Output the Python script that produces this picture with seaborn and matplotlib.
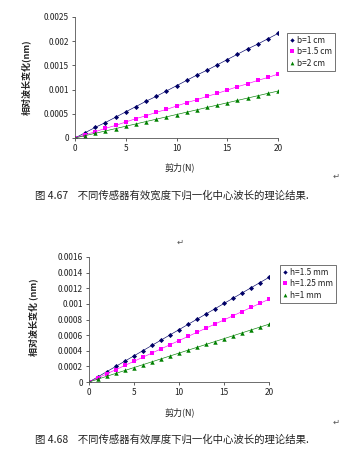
import numpy as np
import pandas as pd
import matplotlib
matplotlib.use("Agg")
import matplotlib.pyplot as plt
import seaborn as sns
from matplotlib.lines import Line2D

sns.set_theme(style="ticks")
plt.rcParams["font.family"] = ["Noto Sans CJK SC", "DejaVu Sans"]

force = list(range(21))

# width series (fig 4.67)
width_labels = ["b=1 cm", "b=1.5 cm", "b=2 cm"]
b1 = [0, 0.00011, 0.00022, 0.00032, 0.00043, 0.00054, 0.00065, 0.00076, 0.00086,
      0.00097, 0.00108, 0.00119, 0.0013, 0.0014, 0.00151, 0.00162, 0.00173,
      0.00184, 0.00194, 0.00205, 0.00216]
b15 = [0, 0.000066, 0.00013, 0.0002, 0.00026, 0.00033, 0.0004, 0.00046, 0.00053,
       0.00059, 0.00066, 0.00073, 0.00079, 0.00086, 0.00092, 0.00099, 0.00106,
       0.00112, 0.00119, 0.00125, 0.00132]
b2 = [0, 0.000049, 0.000097, 0.000146, 0.000194, 0.000243, 0.000291, 0.00034,
      0.000388, 0.000437, 0.000485, 0.000534, 0.000582, 0.000631, 0.000679,
      0.000728, 0.000776, 0.000825, 0.000873, 0.000922, 0.00097]

# thickness series (fig 4.68)
thick_labels = ["h=1.5 mm", "h=1.25 mm", "h=1 mm"]
h15 = [0, 0.000067, 0.000134, 0.000201, 0.000268, 0.000335, 0.000402, 0.000469,
       0.000536, 0.000603, 0.00067, 0.000737, 0.000804, 0.000871, 0.000938,
       0.001005, 0.001072, 0.001139, 0.001206, 0.001273, 0.00134]
h125 = [0, 0.000053, 0.000106, 0.000159, 0.000212, 0.000265, 0.000318, 0.000371,
        0.000424, 0.000477, 0.00053, 0.000583, 0.000636, 0.000689, 0.000742,
        0.000795, 0.000848, 0.000901, 0.000954, 0.001007, 0.00106]
h1 = [0, 0.000037, 0.000074, 0.000111, 0.000148, 0.000185, 0.000222, 0.000259,
      0.000296, 0.000333, 0.00037, 0.000407, 0.000444, 0.000481, 0.000518,
      0.000555, 0.000592, 0.000629, 0.000666, 0.000703, 0.00074]

x_ticks = [0, 5, 10, 15, 20]
y1_ticks = [0, 0.0005, 0.001, 0.0015, 0.002, 0.0025]
y1_ticklabels = ["0", "0.0005", "0.001", "0.0015", "0.002", "0.0025"]
y2_ticks = [0, 0.0002, 0.0004, 0.0006, 0.0008, 0.001, 0.0012, 0.0014, 0.0016]
y2_ticklabels = ["0", "0.0002", "0.0004", "0.0006", "0.0008", "0.001",
                 "0.0012", "0.0014", "0.0016"]

colors = ["#000066", "#FF00FF", "#008000"]
markers = ["D", "s", "^"]
msizes = [2.6, 3.0, 3.2]


def long_frame(labels, series):
    rows = []
    for lab, vals in zip(labels, series):
        for f, v in zip(force, vals):
            rows.append({"force": f, "value": v, "series": lab})
    return pd.DataFrame(rows)


def draw(ax, df, labels, yticks, yticklabels, ylim):
    for lab, c, m, ms in zip(labels, colors, markers, msizes):
        sub = df[df["series"] == lab]
        sns.lineplot(data=sub, x="force", y="value", ax=ax, color=c,
                     linewidth=0.45, marker=m, markersize=ms,
                     markeredgewidth=0, legend=False)
    ax.set_xlim(0, 20)
    ax.set_ylim(*ylim)
    ax.set_xticks(x_ticks)
    ax.set_xticklabels([str(t) for t in x_ticks], fontsize=6, color="#222222")
    ax.set_yticks(yticks)
    ax.set_yticklabels(yticklabels, fontsize=6, color="#222222")
    ax.tick_params(axis="both", length=2.5, width=0.6, pad=2, colors="#444444",
                   labelcolor="#222222")
    for s in ["top", "right"]:
        ax.spines[s].set_visible(False)
    for s in ["left", "bottom"]:
        ax.spines[s].set_linewidth(0.6)
        ax.spines[s].set_color("#555555")
    ax.set_xlabel("")
    ax.set_ylabel("")
    ax.set_facecolor("white")


def legend_box(fig, labels, bbox):
    handles = [Line2D([], [], linestyle="none", marker=m, color=c,
                      markersize=ms * 0.85, markeredgewidth=0)
               for c, m, ms in zip(colors, markers, msizes)]
    leg = fig.legend(handles, labels, loc="upper left", bbox_to_anchor=bbox,
                     bbox_transform=fig.transFigure, fontsize=6, frameon=True,
                     fancybox=False, handlelength=0.5, handletextpad=0.3,
                     borderpad=0.35, labelspacing=0.3, borderaxespad=0)
    leg.get_frame().set_edgecolor("#333333")
    leg.get_frame().set_linewidth(0.6)
    for t in leg.get_texts():
        t.set_color("#222222")


W, H = 342, 458
fig = plt.figure(figsize=(W / 100, H / 100), dpi=100)
fig.patch.set_facecolor("white")

ax1 = fig.add_axes([75 / W, 1 - 138 / H, (278 - 75) / W, (138 - 17) / H])
draw(ax1, long_frame(width_labels, [b1, b15, b2]), width_labels,
     y1_ticks, y1_ticklabels, (0, 0.0025))
legend_box(fig, width_labels, (287 / W, 1 - 33 / H))

ax2 = fig.add_axes([89 / W, 1 - 382 / H, (269 - 89) / W, (382 - 257) / H])
draw(ax2, long_frame(thick_labels, [h15, h125, h1]), thick_labels,
     y2_ticks, y2_ticklabels, (0, 0.0016))
legend_box(fig, thick_labels, (280 / W, 1 - 265 / H))

# axis titles
fig.text(26 / W, 1 - 77 / H, "相对波长变化(nm)", rotation=90, ha="center",
         va="center", fontsize=6.5, color="#222222", fontweight="bold")
fig.text(180 / W, 1 - 167 / H, "剪力(N)", ha="center", va="center",
         fontsize=6.5, color="#222222")
fig.text(33 / W, 1 - 317 / H, "相对波长变化 (nm)", rotation=90, ha="center",
         va="center", fontsize=6.5, color="#222222", fontweight="bold")
fig.text(180 / W, 1 - 412 / H, "剪力(N)", ha="center", va="center",
         fontsize=6.5, color="#222222")

# captions
fig.text(35 / W, 1 - 195 / H, "图 4.67    不同传感器有效宽度下归一化中心波长的理论结果.",
         ha="left", va="center", fontsize=7.5, color="#222222")
fig.text(35 / W, 1 - 440 / H, "图 4.68    不同传感器有效厚度下归一化中心波长的理论结果.",
         ha="left", va="center", fontsize=7.5, color="#222222")

# paragraph marks
for (px, py) in [(180, 242), (336, 176), (336, 422)]:
    fig.text(px / W, 1 - py / H, "↵", ha="center", va="center", fontsize=6,
             color="#555555", family=["DejaVu Sans"])

fig.savefig("out.png", dpi=100, facecolor="white")
